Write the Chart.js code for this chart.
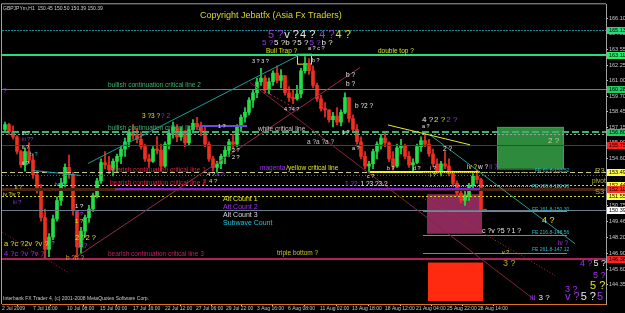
<!DOCTYPE html>
<html>
<head>
<meta charset="utf-8">
<script src="https://cdn.jsdelivr.net/npm/chart.js@4.4.0/dist/chart.umd.min.js"></script>
<style>
html, body { margin: 0; padding: 0; background: #000; }
#wrap { width: 625px; height: 313px; position: relative; }
</style>
</head>
<body>
<div id="wrap"><canvas id="chart"></canvas></div>
<script>
// GBPJPYm H1, 2 Jul - 28 Aug 2009 (one candle per ~half day)
const opens = [157.0,157.4,156.8,156.4,155.2,154.1,155.2,154.5,153.3,152.0,
  149.8,147.2,148.2,149.7,151.2,152.6,153.9,153.3,150.3,147.4,
  148.7,149.8,150.5,151.6,152.8,154.3,154.1,153.7,154.4,154.8,
  155.4,156.0,156.8,156.5,156.2,155.6,154.6,154.4,155.4,155.3,
  154.0,155.8,156.7,157.2,156.4,156.9,155.9,157.0,157.5,157.2,
  156.8,155.8,154.6,153.9,154.2,154.8,155.3,156.0,155.8,157.2,
  158.0,158.4,159.4,160.0,160.9,161.2,160.3,160.9,161.6,161.0,
  161.4,160.0,159.6,159.5,159.9,161.8,162.4,161.8,160.6,159.5,
  158.7,158.6,157.8,158.1,157.6,158.4,159.6,157.9,157.0,156.0,
  154.8,154.0,154.2,155.2,155.8,156.3,155.9,154.6,154.0,155.5,
  155.7,154.8,154.1,154.3,155.6,156.1,155.8,155.0,154.2,153.6,
  154.2,154.0,153.4,152.6,151.8,151.2,151.6,152.4,153.2,152.9,
  150.45];
const highs = [157.6,157.5,157.3,156.5,155.3,155.5,155.9,155.0,153.6,152.5,
  150.5,148.5,150.0,151.5,153.0,154.2,154.9,153.5,150.3,149.0,
  150.0,150.8,151.8,153.0,154.6,155.2,154.8,154.6,155.0,155.6,
  156.3,157.0,157.4,157.1,156.8,155.8,155.0,155.6,156.4,155.8,
  156.0,157.0,157.6,157.4,157.2,156.9,157.3,157.8,158.0,157.6,
  157.2,156.0,154.8,154.4,155.0,155.6,156.2,156.6,157.4,158.2,
  158.8,159.6,160.2,161.2,162.0,161.4,161.2,161.8,162.2,161.9,
  161.4,160.5,160.2,160.6,162.0,162.95,162.8,162.2,160.8,159.8,
  159.2,158.6,158.4,158.8,158.6,160.0,159.6,158.2,157.4,156.4,
  155.2,154.4,155.4,156.0,156.6,156.8,156.0,155.2,155.8,156.2,
  155.8,155.2,154.6,155.8,156.4,156.7,156.2,155.4,154.6,154.4,
  155.2,154.6,153.6,152.8,152.2,152.0,152.6,153.4,153.7,153.0,
  150.50];
const lows = [156.9,156.6,156.2,155.0,153.9,153.6,154.2,153.0,151.8,149.5,
  146.4,146.6,148.0,149.5,150.8,152.3,153.0,150.0,146.6,146.9,
  148.2,149.4,150.3,151.4,152.6,153.8,153.4,153.2,153.5,154.2,
  154.8,155.6,156.2,155.9,155.4,154.4,153.9,154.3,155.0,153.6,
  153.9,155.4,156.3,156.0,156.1,155.6,155.7,156.7,157.0,156.5,
  155.6,154.4,153.6,153.5,153.8,154.2,154.8,155.4,155.6,156.8,
  157.6,158.2,158.8,159.6,160.6,160.0,159.9,160.6,160.8,160.4,
  159.8,159.3,159.1,159.4,159.6,161.6,161.5,160.4,159.3,158.5,
  158.0,157.6,157.2,157.4,157.3,158.3,157.6,156.8,155.8,154.6,
  153.8,153.5,153.8,154.6,155.4,155.6,154.4,153.7,153.9,155.0,
  154.6,153.9,153.5,154.2,155.2,155.6,154.8,154.0,153.4,153.2,
  153.8,153.2,152.4,151.6,151.0,150.8,151.2,152.0,152.6,150.3,
  150.39];
const closes = [157.4,156.8,156.4,155.2,154.1,155.2,154.5,153.3,152.0,149.8,
  147.2,148.2,149.7,151.2,152.6,153.9,153.3,150.4,147.4,148.7,
  149.8,150.5,151.6,152.8,154.3,154.1,153.7,154.4,154.8,155.4,
  156.0,156.8,156.5,156.2,155.6,154.6,154.4,155.4,155.3,154.0,
  155.8,156.7,157.2,156.4,156.9,155.9,157.0,157.5,157.2,156.8,
  155.8,154.6,153.9,154.2,154.8,155.3,156.0,155.8,157.2,158.0,
  158.4,159.4,160.0,160.9,161.2,160.3,160.9,161.6,161.0,161.4,
  160.0,159.6,159.5,159.9,161.8,162.4,161.8,160.6,159.5,158.7,
  158.6,157.8,158.1,157.6,158.4,159.6,157.9,157.0,156.0,154.8,
  154.0,154.2,155.2,155.8,156.3,155.9,154.6,154.0,155.5,155.7,
  154.8,154.1,154.3,155.6,156.1,155.8,155.0,154.2,153.6,154.2,
  154.0,153.4,152.6,151.8,151.2,151.6,152.4,153.2,152.9,150.45,
  150.39];

// time axis (bar index) and price axis ticks
const xTickPos = [-0.75, 7, 15.5, 23.75, 32, 40, 47.75, 55.25, 63, 70.75, 78.75, 86.75, 95, 102.75, 110.5, 118.25];
const xTickLabels = ['2 Jul 2009','7 Jul 16:00','10 Jul 08:00','15 Jul 00:00','17 Jul 16:00','22 Jul 12:00',
  '27 Jul 06:00','29 Jul 22:00','3 Aug 16:00','6 Aug 08:00','11 Aug 02:00','13 Aug 18:00',
  '18 Aug 12:00','21 Aug 04:00','25 Aug 22:00','28 Aug 14:00'];
const yTicks = [166.10,164.85,163.55,162.25,161.00,159.70,158.45,157.15,155.90,154.60,153.30,152.05,150.75,149.46,148.20,146.90,145.60,144.35];

// horizontal levels: price, colour, width, dash, from bar, to bar (null = whole width)
const levels = [
  [165.13, '#1f8a96', 1, [2,1], null, null],
  [163.11, '#22e07a', 2, [], null, null],
  [160.28, '#2ea86a', 1, [], null, null],
  [156.80, '#3cb36a', 2, [7,3], null, null],
  [156.64, '#9aa0a0', 1, [2,2], null, null],
  [155.75, '#8a2040', 1, [], null, null],
  [157.29, '#6a4ae0', 2, [], 48.75, 60.5],
  [153.49, '#c8c890', 1, [5,3], null, null],
  [153.49, '#f0f020', 2, [], 91.25, 118.75],
  [153.25, '#e03030', 1, [1,2], null, null],
  [152.44, '#d8d820', 1, [2,2], null, null],
  [152.11, '#4a2410', 3, [], null, null],
  [152.11, '#7a20e0', 2, [], 27.5, 118.75],
  [151.55, '#d8d820', 1, [2,2], null, null],
  [150.39, '#6a7c8c', 1, [], null, null],
  [153.52, '#2aa8b8', 1, [1,1], 104.5, 140.5],
  [152.38, '#2aa8b8', 1, [1,1], 104.5, 140.5],
  [150.30, '#2aa8b8', 1, [], 104.5, 140.5],
  [148.40, '#2aa8b8', 1, [], 104.5, 140.5],
  [146.94, '#2aa8b8', 1, [], 104.5, 140.5],
  [146.38, '#b02060', 2, [], null, null]
];

// trend lines: bar1, price1, bar2, price2, colour, dash
const trendLines = [
  [20.75, 154.22, 73.75, 163.11, '#1e9a9a', []],
  [18, 146.62, 88.75, 162.06, '#9a2a4a', []],
  [61.25, 160.85, 132.5, 143.06, '#8a2040', []],
  [64.5, 160.20, 73, 158.66, '#9a2a4a', [2,2]],
  [106.25, 156.56, 142.5, 147.67, '#2a9a8a', []],
  [95.75, 157.37, 116.25, 155.75, '#e8e830', []],
  [103.75, 151.55, 137.5, 145.08, '#c03020', [1,2]],
  [-1.25, 148.72, 15.75, 145.32, '#b02030', [1,2]],
  [7, 153.65, 18.75, 153.25, '#20a0c0', []]
];

// rectangles: bar1, price1, bar2, price2, fill, stroke
const boxes = [
  [123, 157.21, 139.5, 153.81, '#2e8b3e', '#3aa050'],
  [105.5, 151.71, 119.25, 148.48, '#8b2a5a', null],
  [105.75, 146.13, 119.5, 142.98, '#ff2a10', null],
  [73, 163.19, 76.5, 162.38, null, '#e8e820']
];

const Y = '#e0e020', P = '#a030f0', W = '#e8e8e8', C = '#20c8d8', G = '#3cb371', R = '#dc2040';
// text labels: bar, price, font size, [text, colour] parts
const texts = [
  [-0.5, 166.91, 5, [['GBPJPYm,H1  150.45 150.50 150.39 150.39', '#d0d0d0']]],
  [48.75, 166.34, 9, [['Copyright Jebatfx (Asia Fx Traders)', '#d8d830']]],
  [65.75, 164.73, 11, [['5 ?', P], ['v ?', W], ['4 ?', W], [' 4 ?', P], ['4 ?', Y]]],
  [64.25, 164.08, 8, [['5 ?', P], ['5 ?b ?', W], ['5 ?', W], ['5 ?', P], ['b ?', W]]],
  [65.25, 163.43, 6.5, [['Bull Trap ?', Y]]],
  [75.75, 163.59, 5.5, [['a ? c ?', W]]],
  [93.25, 163.43, 6.5, [['double top ?', Y]]],
  [61.75, 162.54, 5.5, [['3 ? 3 ?', W]]],
  [76.75, 162.62, 5.5, [['b ?', W]]],
  [85.25, 161.41, 6.5, [['b ?', W]]],
  [85.25, 160.68, 6.5, [['b ?', W]]],
  [87.5, 158.91, 6.5, [['b ?2 ?', W]]],
  [69.75, 158.66, 5.5, [['4 ?4 ?', W]]],
  [34.25, 158.10, 6.5, [['3 ?3 ?', Y], ['? 2', P]]],
  [25.75, 160.60, 6.5, [['bullish continuation critical line 2', G]]],
  [25.75, 157.13, 6.5, [['bullish continuation critical line 1', G]]],
  [63.25, 157.05, 6.5, [['white critical line', '#c8c8c8']]],
  [75.5, 156.0, 6.5, [['a ?a ?a ?', '#c8c8c8']]],
  [63.75, 153.81, 6.5, [['magenta', P], ['/yellow critical line', Y]]],
  [26.25, 153.65, 6.5, [['bearish continuation critical line 1', R]]],
  [26.25, 152.60, 6.5, [['bearish continuation critical line 2', R]]],
  [25.75, 146.78, 6.5, [['bearish continuation critical line 3', '#c02060']]],
  [68, 146.86, 6.5, [['triple bottom ?', '#c8c820']]],
  [54.5, 151.31, 7, [['Alt Count 1', Y]]],
  [54.5, 150.66, 7, [['Alt Count 2', P]]],
  [54.5, 150.01, 7, [['Alt Count 3', '#d8d8d8']]],
  [54.5, 149.37, 7, [['Subwave Count', C]]],
  [50.5, 153.33, 6, [['4 ?', W], ['a ?', P]]],
  [49.5, 152.76, 6, [['2 ', '#e02020'], ['4 ?', Y]]],
  [85, 152.52, 6.5, [['1 ?2', P], [' 1 ?3 ?3 ?', W]]],
  [90.5, 153.17, 5.5, [['c ?', W]]],
  [95.5, 153.81, 5.5, [['b ?', W]]],
  [102, 153.81, 5.5, [['d ?', W]]],
  [86.75, 155.43, 5.5, [['a ?', W]]],
  [84.25, 156.72, 5.5, [['1 ?', W]]],
  [53.25, 157.21, 5.5, [['1 ?', W]]],
  [56.75, 155.27, 5.5, [['2 ?', W]]],
  [56.75, 154.70, 5.5, [['2 ?', W]]],
  [104.25, 157.77, 8, [['4 ?', W], ['2 ?', Y], ['2 ?', P]]],
  [104.25, 157.21, 5.5, [['a ?', W]]],
  [109.5, 155.43, 6.5, [['2 ?', W]]],
  [106.25, 153.81, 5.5, [['i ?', W]]],
  [106.25, 153.25, 5.5, [['i ?', W]]],
  [115.5, 153.89, 6.5, [['iv ?', Y], ['w ?', W], ['ii ?', P]]],
  [119.25, 148.72, 7, [['c ?v ?5 ?', W], ['1 ?', W]]],
  [134.25, 149.53, 9, [['4 ?', Y]]],
  [138.25, 147.67, 6.5, [['iv ?', P]]],
  [124.25, 146.94, 5.5, [['v ?', Y]]],
  [124.5, 146.05, 9, [['3 ?', '#b0b020']]],
  [143.75, 146.05, 9, [['4 ?', P], ['5 ?', W]]],
  [147, 145.08, 9, [['5 ?', P]]],
  [146.25, 144.19, 11, [['5 ?', Y]]],
  [140, 143.95, 9, [['3 ?', P]]],
  [131.25, 143.22, 8, [['iii', P], [' 3 ?', W]]],
  [140, 143.30, 11, [['v ?', P], ['5 ?', W], ['5 ?', P]]],
  [147.5, 153.65, 7.5, [['R3', '#b8b840']]],
  [146.75, 152.76, 6.5, [['pivot', '#b8b840']]],
  [147.5, 151.87, 7.5, [['S3', '#b8b840']]],
  [135.75, 156.08, 8, [['2 ?', '#d0d0a0']]],
  [132.5, 153.65, 5, [['FE 61.8-153.52', '#30b8c8']]],
  [131.75, 152.36, 5, [['FE 100.0-152.38', '#30b8c8']]],
  [131.75, 150.42, 5, [['FE 161.8-150.30', '#30b8c8']]],
  [131.75, 148.56, 5, [['FE 216.8-148.56', '#30b8c8']]],
  [131.75, 147.18, 5, [['FE 261.8-147.12', '#30b8c8']]],
  [-0.5, 160.12, 7, [['?', P]]],
  [4.25, 156.64, 5.5, [['iii ?', W]]],
  [4.25, 156.16, 5.5, [['iii ??', P]]],
  [4.25, 155.51, 5.5, [['ii ?', W]]],
  [6.25, 154.94, 5.5, [['b ?', C]]],
  [4.25, 154.22, 5.5, [['ii ?', W]]],
  [12.5, 152.52, 5.5, [['iv ?', C]]],
  [2.5, 152.28, 5.5, [['ii ?', Y]]],
  [-0.5, 151.71, 5.5, [['iv ?iv ?', Y]]],
  [2, 151.06, 5.5, [['iii ?', P]]],
  [17.5, 150.74, 6, [['1 ?', W]]],
  [17.5, 150.10, 6, [['1 ?', P]]],
  [17.5, 149.53, 6, [['1 ?', Y]]],
  [-0.25, 147.67, 7.5, [['a ?c ?2v ?v ?', Y]]],
  [-0.25, 146.86, 7.5, [['4 ?c ?v ?v ?', P]]],
  [10.5, 147.67, 5.5, [['b ?', C]]],
  [17.5, 148.15, 7.5, [['2 ?2 ?', Y]]],
  [18, 147.51, 7.5, [['2 ?', P]]],
  [15.25, 146.46, 6.5, [['b ?b ?', '#e0a020']]],
  [-0.5, 143.14, 5, [['Interbank FX Trader 4, (c) 2001-2008 MetaQuotes Software Corp.', '#c8c8c8']]]
];

// price markers on the right axis: price, background
const axisMarks = [
  [165.13, '#22dd77'], [163.11, '#22ee66'], [160.28, '#22cc66'], [156.80, '#22cc66'],
  [155.75, '#ff2020'], [153.49, '#ffff40'], [152.44, '#ffff40'], [152.11, '#ff3020'],
  [151.55, '#ffff40'], [150.39, '#ffffff'], [146.38, '#ff2020']
];

const FONT = "'Liberation Sans', Arial, sans-serif";
const upCol = '#22e048', downCol = '#f03020';
const candleCols = closes.map((c, i) => c >= opens[i] ? upCol : downCol);

const overlay = {
  id: 'overlay',
  beforeDatasetsDraw(chart) {
    const { ctx, chartArea: a, scales: { x, y } } = chart;
    ctx.save();
    ctx.beginPath(); ctx.rect(a.left, a.top, a.width, a.height); ctx.clip();
    boxes.forEach(b => {
      const x1 = x.getPixelForValue(b[0]), y1 = y.getPixelForValue(b[1]);
      const x2 = x.getPixelForValue(b[2]), y2 = y.getPixelForValue(b[3]);
      if (b[4]) { ctx.fillStyle = b[4]; ctx.fillRect(x1, y1, x2 - x1, y2 - y1); }
      if (b[5]) { ctx.strokeStyle = b[5]; ctx.lineWidth = 1; ctx.strokeRect(x1 + 0.5, y1 + 0.5, x2 - x1, y2 - y1); }
    });
    ctx.restore();
  },
  afterDatasetsDraw(chart) {
    const { ctx, chartArea: a, scales: { x, y } } = chart;
    ctx.save();
    ctx.beginPath(); ctx.rect(a.left, a.top, a.width, a.height); ctx.clip();
    levels.forEach(l => {
      const py = Math.round(y.getPixelForValue(l[0])) + (l[2] % 2 ? 0.5 : 0);
      const x1 = l[4] == null ? a.left : x.getPixelForValue(l[4]);
      const x2 = l[5] == null ? a.right : x.getPixelForValue(l[5]);
      ctx.strokeStyle = l[1]; ctx.lineWidth = l[2]; ctx.setLineDash(l[3]);
      ctx.beginPath(); ctx.moveTo(x1, py); ctx.lineTo(x2, py); ctx.stroke();
    });
    trendLines.forEach(t => {
      ctx.strokeStyle = t[4]; ctx.lineWidth = 1; ctx.setLineDash(t[5]);
      ctx.beginPath();
      ctx.moveTo(x.getPixelForValue(t[0]), y.getPixelForValue(t[1]));
      ctx.lineTo(x.getPixelForValue(t[2]), y.getPixelForValue(t[3]));
      ctx.stroke();
    });
    ctx.setLineDash([]);
    ctx.textBaseline = 'middle';
    ctx.textAlign = 'left';
    texts.forEach(t => {
      let px = x.getPixelForValue(t[0]);
      const py = y.getPixelForValue(t[1]);
      ctx.font = t[2] + 'px ' + FONT;
      t[3].forEach(p => {
        ctx.fillStyle = p[1];
        ctx.fillText(p[0], px, py);
        px += ctx.measureText(p[0]).width + 1;
      });
    });
    ctx.restore();

    // frame and right-axis price markers
    ctx.save();
    ctx.strokeStyle = '#a0a0a0'; ctx.lineWidth = 1;
    ctx.beginPath();
    ctx.moveTo(a.left - 0.5, a.bottom); ctx.lineTo(a.left - 0.5, a.top - 0.5); ctx.lineTo(a.right, a.top - 0.5);
    ctx.stroke();
    ctx.font = '5.5px ' + FONT;
    ctx.textBaseline = 'middle';
    axisMarks.forEach(m => {
      const py = Math.round(y.getPixelForValue(m[0]));
      ctx.fillStyle = m[1];
      ctx.fillRect(a.right + 1, py - 3, chart.width - a.right - 1, 7);
      ctx.fillStyle = '#000';
      ctx.fillText(m[0].toFixed(2), a.right + 3, py + 0.5);
    });
    ctx.restore();
  }
};

new Chart(document.getElementById('chart'), {
  type: 'bar',
  data: {
    datasets: [
      {
        label: 'wicks',
        data: highs.map((h, i) => ({ x: i, y: [lows[i], h] })),
        backgroundColor: candleCols,
        barThickness: 1,
        grouped: false,
        minBarLength: 1
      },
      {
        label: 'bodies',
        data: opens.map((o, i) => ({ x: i, y: [o, closes[i]] })),
        backgroundColor: candleCols,
        barThickness: 3,
        grouped: false,
        minBarLength: 1
      }
    ]
  },
  options: {
    responsive: true,
    maintainAspectRatio: false,
    animation: false,
    layout: { padding: { left: 2, top: 1, right: 0, bottom: 0 } },
    plugins: { legend: { display: false }, tooltip: { enabled: false } },
    scales: {
      x: {
        type: 'linear',
        min: -0.75,
        max: 150.25,
        offset: false,
        afterBuildTicks: axis => { axis.ticks = xTickPos.map(v => ({ value: v })); },
        afterFit: axis => { axis.height = 9; },
        ticks: {
          autoSkip: false, maxRotation: 0, align: 'start', padding: 0,
          font: { size: 5, family: FONT }, color: '#c8c8c8',
          callback: (v, i) => xTickLabels[i]
        },
        grid: { drawOnChartArea: false, tickLength: 2, color: '#c8c8c8' },
        border: { color: '#e07020', dash: [2, 2] }
      },
      y: {
        position: 'right',
        min: 142.74,
        max: 167.23,
        afterBuildTicks: axis => { axis.ticks = yTicks.map(v => ({ value: v })); },
        afterFit: axis => { axis.width = 19; },
        ticks: {
          padding: 1, font: { size: 5.5, family: FONT }, color: '#c8c8c8',
          callback: v => v.toFixed(2)
        },
        grid: { drawOnChartArea: false, tickLength: 2, color: '#c8c8c8' },
        border: { color: '#a0a0a0' }
      }
    }
  },
  plugins: [overlay]
});
</script>
</body>
</html>
